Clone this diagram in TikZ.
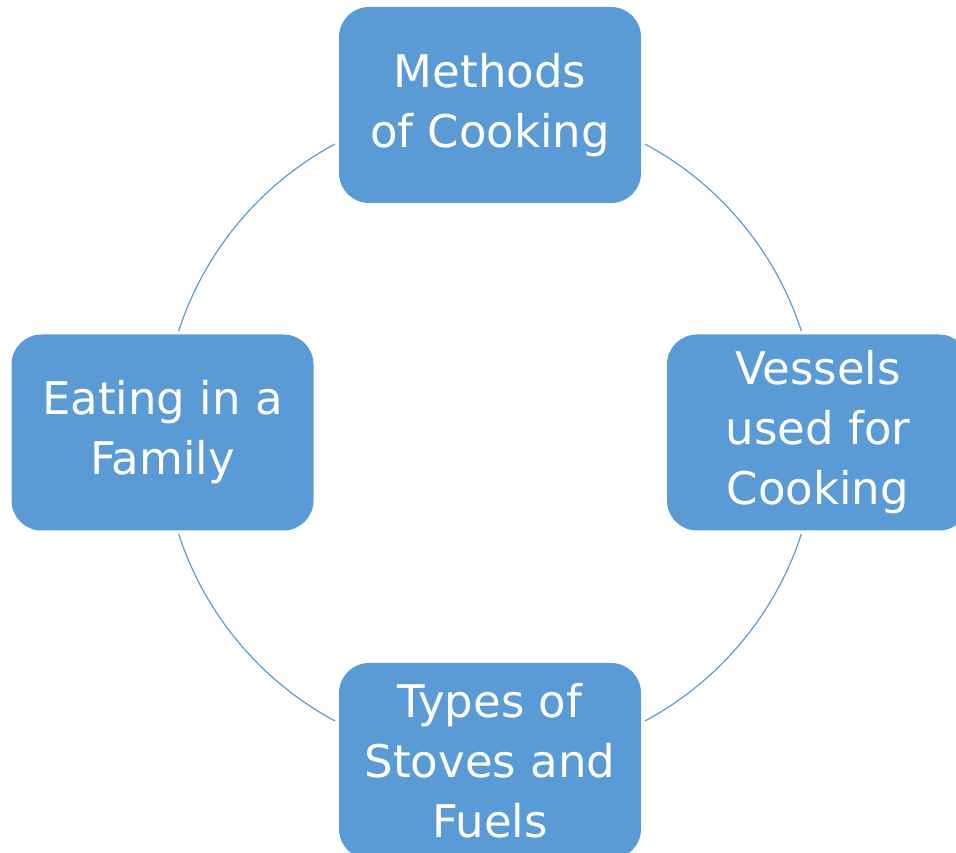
\documentclass[tikz,border=0pt]{standalone}
\usepackage{fontspec}
\setmainfont{DejaVu Sans}
\definecolor{boxblue}{HTML}{5B9BD5}
\definecolor{ringblue}{HTML}{5B9BD5}
\begin{document}
\begin{tikzpicture}[x=1pt,y=1pt,
  topic/.style={rectangle, rounded corners=30pt, fill=boxblue, draw=none,
    minimum width=302pt, minimum height=196pt, inner sep=0pt,
    align=center, text=white, font=\fontsize{45}{60}\selectfont},
  ring/.style={draw=ringblue, line width=1.2pt}]
\useasboundingbox (0,0) rectangle (956,852);
\coordinate (o) at (490,419.5);
\node[topic] (top) at (490,747) {Methods\\of Cooking};
\node[topic] (right) at (818,419.5) {Vessels\\used for\\Cooking};
\node[topic] (bottom) at (490,91) {Types of\\Stoves and\\Fuels};
\node[topic] (left) at (162.5,419.5) {Eating in a\\Family};
\draw[ring] (o) ++(118.25:327.5) arc[start angle=118.25, end angle=161.95, radius=327.5];
\draw[ring] (o) ++(198.05:327.5) arc[start angle=198.05, end angle=241.75, radius=327.5];
\draw[ring] (o) ++(298.25:327.5) arc[start angle=298.25, end angle=341.95, radius=327.5];
\draw[ring] (o) ++(18.05:327.5) arc[start angle=18.05, end angle=61.75, radius=327.5];
\end{tikzpicture}
\end{document}
